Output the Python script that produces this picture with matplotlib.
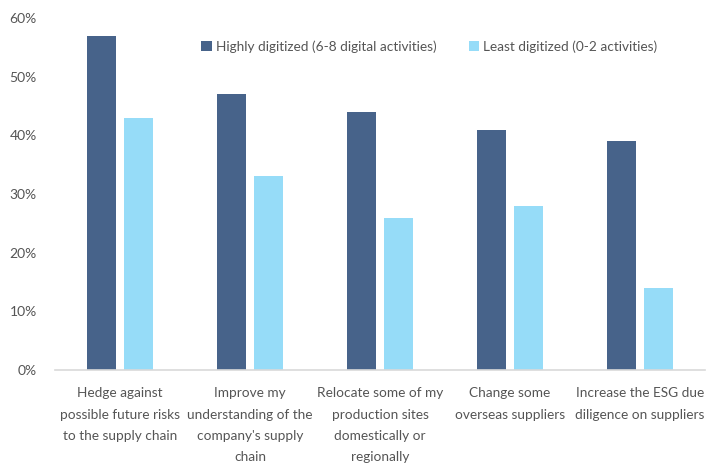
import matplotlib
matplotlib.use("Agg")
import matplotlib.pyplot as plt
import numpy as np
from matplotlib.ticker import PercentFormatter

categories = [
    "Hedge against\npossible future risks\nto the supply chain",
    "Improve my\nunderstanding of the\ncompany's supply\nchain",
    "Relocate some of my\nproduction sites\ndomestically or\nregionally",
    "Change some\noverseas suppliers",
    "Increase the ESG due\ndiligence on suppliers",
]
highly = [57, 47, 44, 41, 39]
least = [43, 33, 26, 28, 14]
series_labels = ["Highly digitized (6-8 digital activities)",
                 "Least digitized (0-2 activities)"]

plt.rcParams['font.family'] = ['Lato', 'DejaVu Sans']
text_col = '#555555'

fig = plt.figure(figsize=(7.22, 4.65), dpi=100)
ax = fig.add_axes([0.0762, 0.2043, 0.9003, 0.7567])

x = np.arange(len(categories))
w = 0.223
ax.bar(x - 0.142, highly, w, color='#47638a', label=series_labels[0])
ax.bar(x + 0.142, least, w, color='#96dcf8', label=series_labels[1])

ax.set_xlim(-0.5, len(categories) - 0.5)
ax.set_ylim(0, 60)
ax.set_yticks(range(0, 61, 10))
ax.yaxis.set_major_formatter(PercentFormatter(decimals=0))
ax.set_xticks(x)
ax.set_xticklabels(categories, fontsize=9.8, color=text_col, linespacing=1.92)
ax.tick_params(axis='both', length=0, colors=text_col)
ax.tick_params(axis='y', pad=13, labelsize=10)
ax.tick_params(axis='x', pad=12.5)

for sp in ['top', 'right', 'left']:
    ax.spines[sp].set_visible(False)
ax.spines['bottom'].set_color('#d9d9d9')
ax.spines['bottom'].set_linewidth(1.2)

leg = ax.legend(loc='center', bbox_to_anchor=(0.576, 0.92), ncol=2,
                frameon=False, fontsize=9.8, handlelength=0.75, handleheight=0.75,
                handletextpad=0.3, columnspacing=2.4)
for t in leg.get_texts():
    t.set_color(text_col)

fig.savefig("out.png", dpi=100)
